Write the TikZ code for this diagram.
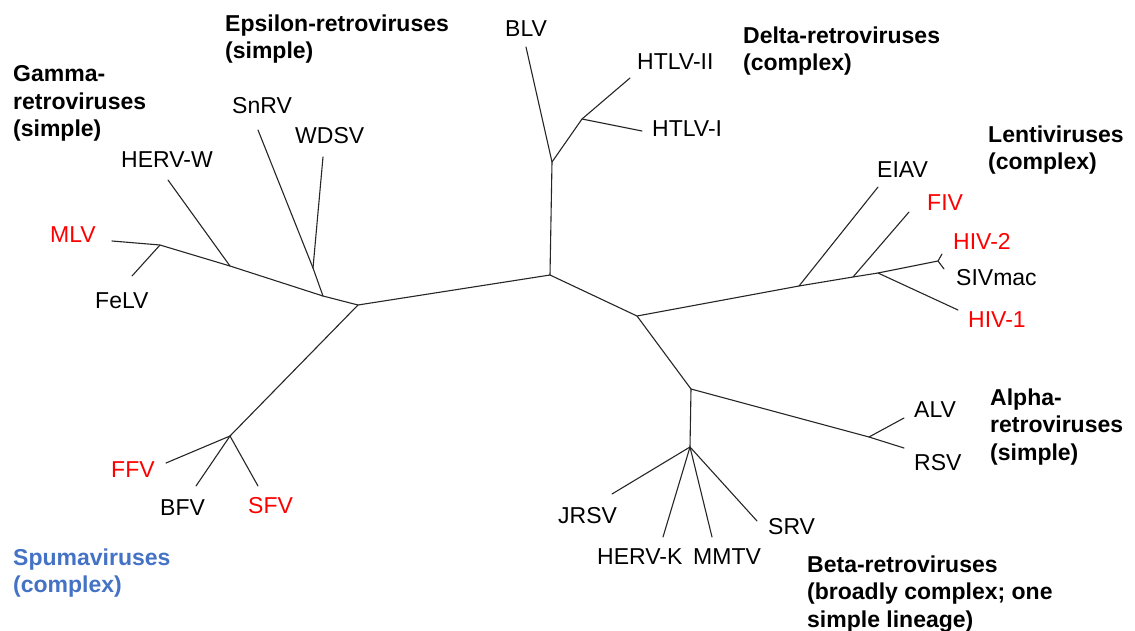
\documentclass[tikz,border=0pt]{standalone}
\usepackage{fontspec}
\setmainfont{Liberation Sans}
\definecolor{hivred}{HTML}{FF0000}
\definecolor{spumablue}{HTML}{4472C4}
\definecolor{branchgray}{HTML}{262626}
\begin{document}
\begin{tikzpicture}[x=1pt,y=-1pt,
  branch/.style={line width=1.1pt, draw=branchgray, line cap=round, line join=round},
  leaf/.style={anchor=base west, inner sep=0pt, font=\fontsize{23}{27.5}\selectfont},
  redleaf/.style={leaf, text=hivred},
  grp/.style={anchor=north west, inner sep=0pt, align=left,
    font=\fontsize{23}{27.5}\selectfont\bfseries}]
\useasboundingbox (0,0) rectangle (1135,630);

% ---- internal nodes of the unrooted tree ----
\coordinate (c1) at (550,275);
\coordinate (g)  at (358,305);
\coordinate (j1) at (323,296);
\coordinate (eps) at (313,268);
\coordinate (hw) at (230,266);
\coordinate (gm) at (160,245);
\coordinate (sp) at (230,436);
\coordinate (dl) at (552,162);
\coordinate (ht) at (582,119);
\coordinate (c2) at (637,316);
\coordinate (l1) at (799,286);
\coordinate (l2) at (853,277);
\coordinate (l3) at (878,273);
\coordinate (hf) at (938,261);
\coordinate (ba) at (691,389);
\coordinate (be) at (690,447);
\coordinate (al) at (869,437);

% ---- branch tips ----
\coordinate (tSnRV) at (258,130);
\coordinate (tWDSV) at (323,157);
\coordinate (tHERVW) at (168,180);
\coordinate (tMLV) at (112,241);
\coordinate (tFeLV) at (132,276);
\coordinate (tFFV) at (166,463);
\coordinate (tBFV) at (196,486);
\coordinate (tSFV) at (258,486);
\coordinate (tBLV) at (526,47);
\coordinate (tHTLVII) at (630,78);
\coordinate (tHTLVI) at (642,131);
\coordinate (tEIAV) at (878,187);
\coordinate (tFIV) at (909,212);
\coordinate (tHIVa) at (942,254);
\coordinate (tSIV) at (944,269);
\coordinate (tHIVb) at (958,310);
\coordinate (tALV) at (904,418);
\coordinate (tRSV) at (904,448);
\coordinate (tJRSV) at (612,494);
\coordinate (tHERVK) at (663,537);
\coordinate (tMMTV) at (712,537);
\coordinate (tSRV) at (757,521);

% ---- branches ----
\draw[branch] (c1) -- (g) -- (j1) -- (eps) -- (tSnRV);
\draw[branch] (eps) -- (tWDSV);
\draw[branch] (j1) -- (hw) -- (gm) -- (tMLV);
\draw[branch] (hw) -- (tHERVW);
\draw[branch] (gm) -- (tFeLV);
\draw[branch] (g) -- (sp);
\draw[branch] (sp) -- (tFFV);
\draw[branch] (sp) -- (tBFV);
\draw[branch] (sp) -- (tSFV);
\draw[branch] (c1) -- (dl) -- (tBLV);
\draw[branch] (dl) -- (ht) -- (tHTLVII);
\draw[branch] (ht) -- (tHTLVI);
\draw[branch] (c1) -- (c2) -- (l1) -- (l2) -- (l3) -- (hf) -- (tHIVa);
\draw[branch] (hf) -- (tSIV);
\draw[branch] (l1) -- (tEIAV);
\draw[branch] (l2) -- (tFIV);
\draw[branch] (l3) -- (tHIVb);
\draw[branch] (c2) -- (ba) -- (al) -- (tRSV);
\draw[branch] (al) -- (tALV);
\draw[branch] (ba) -- (be) -- (tJRSV);
\draw[branch] (be) -- (tHERVK);
\draw[branch] (be) -- (tMMTV);
\draw[branch] (be) -- (tSRV);

% ---- virus names ----
\node[leaf] (nBLV) at (505,36) {BLV};
\node[leaf] (nHTLVII) at (637,69) {HTLV-II};
\node[leaf] (nHTLVI) at (652,136) {HTLV-I};
\node[leaf] (nSnRV) at (232,113) {SnRV};
\node[leaf] (nWDSV) at (295,143) {WDSV};
\node[leaf] (nHERVW) at (121,167) {HERV-W};
\node[redleaf] (nMLV) at (50,242) {MLV};
\node[leaf] (nFeLV) at (95,308) {FeLV};
\node[leaf] (nEIAV) at (877,177) {EIAV};
\node[redleaf] (nFIV) at (927,210) {FIV};
\node[redleaf] (nHIVa) at (953,249) {HIV-2};
\node[leaf] (nSIV) at (956,285) {SIVmac};
\node[redleaf] (nHIVb) at (968,327) {HIV-1};
\node[leaf] (nALV) at (914,417) {ALV};
\node[leaf] (nRSV) at (914,470) {RSV};
\node[leaf] (nJRSV) at (558,523) {JRSV};
\node[leaf] (nHERVK) at (597,564) {HERV-K};
\node[leaf] (nMMTV) at (693,564) {MMTV};
\node[leaf] (nSRV) at (768,534) {SRV};
\node[redleaf] (nFFV) at (111,477) {FFV};
\node[leaf] (nBFV) at (160,515) {BFV};
\node[redleaf] (nSFV) at (248,513) {SFV};

% ---- genus labels ----
\node[grp] (gEps) at (225,14.5) {Epsilon-retroviruses\\(simple)};
\node[grp] (gGam) at (13,65.5) {Gamma-\\retroviruses\\(simple)};
\node[grp] (gDel) at (743,26.5) {Delta-retroviruses\\(complex)};
\node[grp] (gLen) at (988,125.5) {Lentiviruses\\(complex)};
\node[grp] (gAlp) at (990,388.5) {Alpha-\\retroviruses\\(simple)};
\node[grp] (gBet) at (807,555.5) {Beta-retroviruses\\(broadly complex; one\\simple lineage)};
\node[grp, text=spumablue] (gSpu) at (13,548.5) {Spumaviruses\\(complex)};
\end{tikzpicture}
\end{document}
